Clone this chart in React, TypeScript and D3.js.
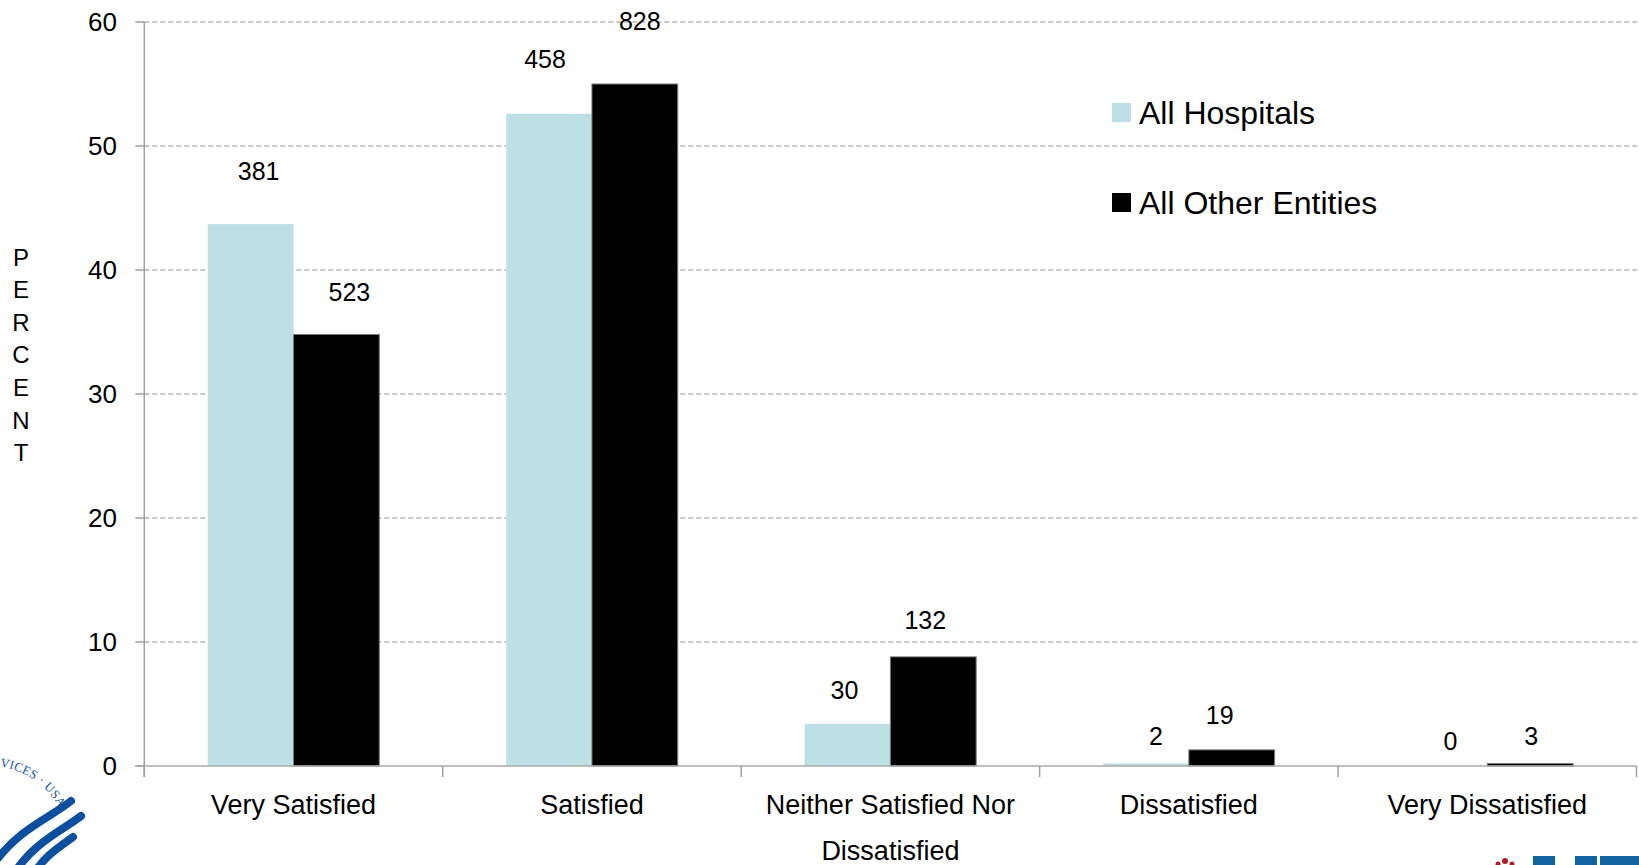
import React from "react";
import * as d3 from "d3";

// Satisfaction survey: share of respondents (percent) by response, with counts shown as labels
const categories = [
  "Very Satisfied",
  "Satisfied",
  "Neither Satisfied Nor|Dissatisfied",
  "Dissatisfied",
  "Very Dissatisfied",
];
const seriesNames = ["All Hospitals", "All Other Entities"];
const hospitalsPct = [43.7, 52.6, 3.4, 0.2, 0];
const otherPct = [34.8, 55.0, 8.8, 1.3, 0.2];
const hospitalsCount = [381, 458, 30, 2, 0];
const otherCount = [523, 828, 132, 19, 3];
const yTicks = [0, 10, 20, 30, 40, 50, 60];

// hand-placed label nudges (dx from bar centre, lift above bar top), px
const labelNudge = [
  [[8, 53], [13, 42]],
  [[-4, 55], [5, 63]],
  [[-3, 34], [-8, 37]],
  [[10, 28], [-12, 35]],
  [[6, 25], [1, 28]],
];

const W = 1639;
const H = 865;
const left = 144.3;
const right = 1636.5;
const top = 22;
const bottom = 766;
const FONT = "'Liberation Sans', Arial, sans-serif";
const colors = ["#bce0e3", "#000000"];

export default function App() {
  const x = d3.scaleBand<string>().domain(categories).range([left, right]).paddingInner(0).paddingOuter(0);
  const xi = d3.scaleBand<string>().domain(seriesNames).range([0, x.bandwidth()]).paddingInner(0).paddingOuter(0.74);
  const y = d3.scaleLinear().domain([0, 60]).range([bottom, top]);
  const values = [hospitalsPct, otherPct];
  const counts = [hospitalsCount, otherCount];
  const boundaries = categories.map((c) => x(c) as number).concat([right]);

  // seal arc: centre and baseline radius
  const sx = -10;
  const sy = 844;
  const sr = 78;

  return (
    <svg
      width={W}
      height={H}
      viewBox={`0 0 ${W} ${H}`}
      style={{ position: "absolute", left: 0, top: 0, display: "block", background: "#fff" }}
      fontFamily={FONT}
    >
      <rect x={0} y={0} width={W} height={H} fill="#fff" />

      {/* gridlines */}
      {yTicks.filter((t) => t > 0).map((t) => (
        <line key={"g" + t} x1={left} x2={W} y1={y(t)} y2={y(t)} stroke="#8f8f8f" strokeWidth={1} strokeDasharray="5,3" />
      ))}

      {/* bars */}
      {categories.map((c, ci) =>
        seriesNames.map((s, si) => {
          const v = values[si][ci];
          const bx = (x(c) as number) + (xi(s) as number);
          const by = y(v);
          const h = bottom - by;
          return (
            <rect
              key={c + s}
              x={bx}
              y={by}
              width={xi.bandwidth()}
              height={Math.max(h, 0)}
              fill={colors[si]}
              stroke={si === 1 ? "#7a7a7a" : "none"}
              strokeWidth={si === 1 ? 1 : 0}
            />
          );
        })
      )}

      {/* y axis */}
      <line x1={left} x2={left} y1={top} y2={bottom + 11} stroke="#a0a0a0" strokeWidth={1.5} />
      {yTicks.map((t) => (
        <g key={"yt" + t}>
          <line x1={left - 9} x2={left} y1={y(t)} y2={y(t)} stroke="#a0a0a0" strokeWidth={1.5} />
          <text x={117} y={y(t)} textAnchor="end" dominantBaseline="central" fontSize={26} fill="#000">
            {t}
          </text>
        </g>
      ))}

      {/* x axis */}
      <line x1={left - 9} x2={right} y1={bottom} y2={bottom} stroke="#a8a8a8" strokeWidth={1.5} />
      {boundaries.map((bx, i) => (
        <line key={"xt" + i} x1={bx} x2={bx} y1={bottom} y2={bottom + 11} stroke="#a0a0a0" strokeWidth={1.5} />
      ))}
      {categories.map((c) => {
        const lines = c.split("|");
        const cx = (x(c) as number) + x.bandwidth() / 2;
        return (
          <text key={"cl" + c} x={cx} textAnchor="middle" fontSize={27} fill="#000">
            {lines.map((ln, i) => (
              <tspan key={i} x={cx} y={805 + i * 46} dominantBaseline="central">
                {ln}
              </tspan>
            ))}
          </text>
        );
      })}

      {/* count labels */}
      {categories.map((c, ci) =>
        seriesNames.map((s, si) => {
          const v = values[si][ci];
          const cx = (x(c) as number) + (xi(s) as number) + xi.bandwidth() / 2;
          const [dx, lift] = labelNudge[ci][si];
          return (
            <text
              key={"lb" + c + s}
              x={cx + dx}
              y={y(v) - lift}
              textAnchor="middle"
              dominantBaseline="central"
              fontSize={25}
              fill="#000"
            >
              {counts[si][ci]}
            </text>
          );
        })
      )}

      {/* axis title */}
      <text fontSize={24} fill="#000" textAnchor="middle">
        {"PERCENT".split("").map((ch, i) => (
          <tspan key={i} x={21} y={257 + i * 32.6} dominantBaseline="central">
            {ch}
          </tspan>
        ))}
      </text>

      {/* legend */}
      {seriesNames.map((s, i) => (
        <g key={"lg" + s} transform={`translate(1112, ${103 + i * 90})`}>
          <rect x={0} y={0} width={19} height={19} fill={colors[i]} />
          <text x={27} y={10} dominantBaseline="central" fontSize={32} fill="#000">
            {s}
          </text>
        </g>
      ))}

      {/* department seal, lower-left corner */}
      <defs>
        <path id="sealArc" d={`M ${sx - sr} ${sy} A ${sr} ${sr} 0 0 1 ${sx + sr} ${sy}`} />
      </defs>
      <text fontFamily="'Liberation Serif', 'DejaVu Serif', serif" fontSize={12.5} fill="#1452a3" letterSpacing={0.3}>
        <textPath href="#sealArc" startOffset="54%">
          VICES · USA
        </textPath>
      </text>
      <g fill="none" stroke="#0d4f9f" strokeWidth={8} strokeLinecap="round">
        <path d="M 71 801 C 50 818, 20 828, -5 862" />
        <path d="M 81 816 C 60 832, 35 842, 15 872" />
        <path d="M 73 837 C 58 848, 45 856, 35 872" />
      </g>

      {/* partner logo, lower-right corner */}
      <g fill="#b01e23">
        <circle cx={1505} cy={861} r={3} />
        <circle cx={1498} cy={864} r={2.5} />
        <circle cx={1512} cy={864} r={2.5} />
      </g>
      <g fill="#11639f">
        <rect x={1533} y={856} width={22} height={10} />
        <rect x={1575} y={856} width={22} height={10} />
        <rect x={1600} y={856} width={39} height={10} />
      </g>
    </svg>
  );
}
